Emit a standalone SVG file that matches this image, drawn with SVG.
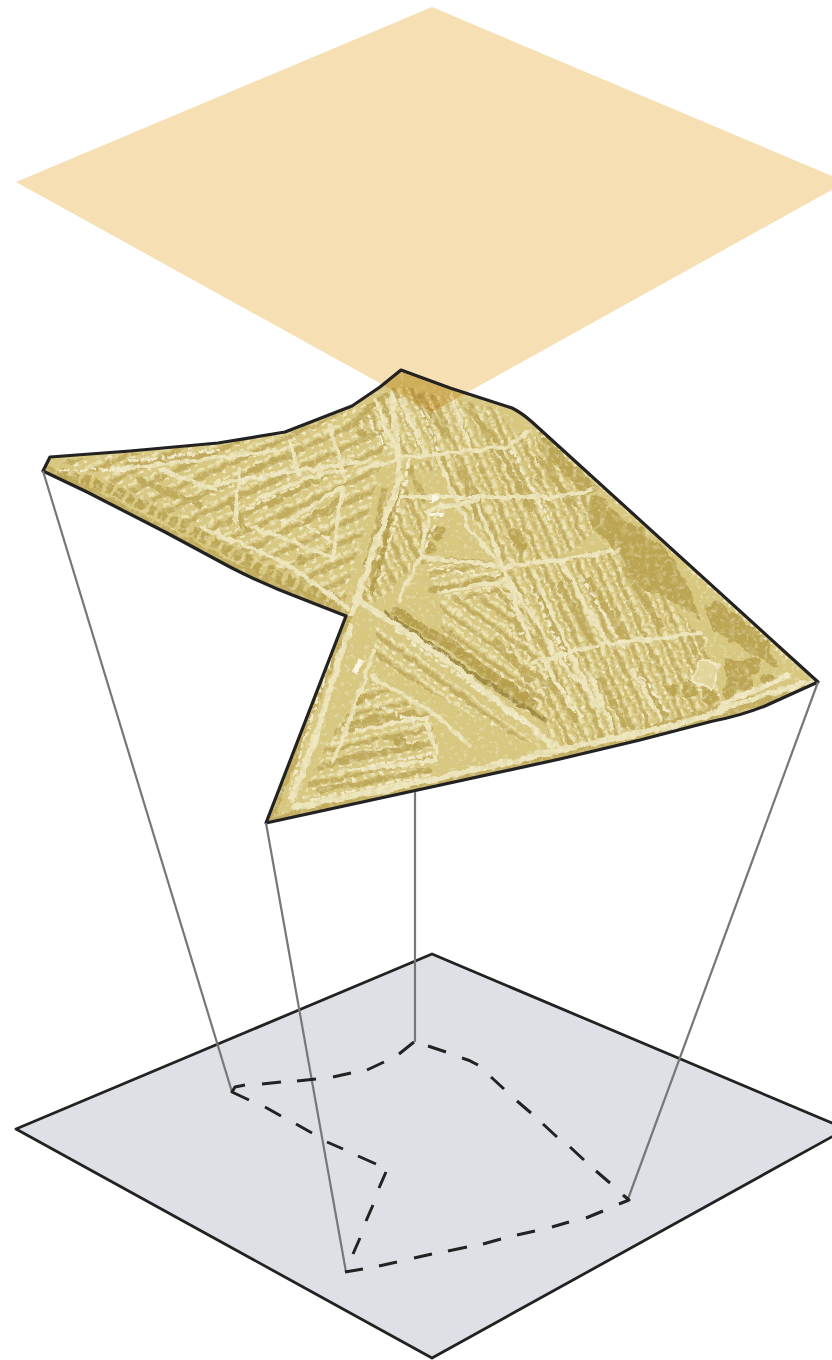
<svg xmlns="http://www.w3.org/2000/svg" width="832" height="1360" viewBox="0 0 832 1360">
<style>
.road{fill:none;stroke:#ede5bc;stroke-linecap:round;stroke-linejoin:round}
.r3{stroke-width:3}.r4{stroke-width:4}.r6{stroke-width:6}
.house{fill:none;stroke:#f3ecce;stroke-width:2.6;stroke-dasharray:9 3 4 3}
.garden{fill:none;stroke:#bfa95a;stroke-width:6;stroke-linecap:round;stroke-dasharray:14 5}
.shade{fill:none;stroke:#b39c4a;stroke-width:4;stroke-linecap:round}
.tree{fill:#bba552}
.sheetline{fill:none;stroke:#222;stroke-width:3.2;stroke-linejoin:round}
.drop{fill:none;stroke:#777;stroke-width:2.2}
.dash{fill:none;stroke:#222;stroke-width:3;stroke-linejoin:round}
</style>
<defs>
<clipPath id="mapclip"><path d="M43 471L50 457L130 451L218 443L285 432L352 406L380 387L401 370L450 388L512 408Q522 413 532 422L818 682L765 706Q740 716 713 721L640 740L560 759L266 823L346 616L300 598Q265 585 230 567L165 532L87 492Z"/></clipPath>
<pattern id="rowsA" width="11" height="16" patternUnits="userSpaceOnUse" patternTransform="rotate(66)">
<rect y="0" width="8" height="3" fill="#ebe2b4"/><rect y="4" width="11" height="4" fill="#c1ac5e"/><rect x="1" y="9" width="3" height="2" fill="#f1eac8"/><rect x="6" y="9" width="3" height="2" fill="#e9e0b0"/><rect y="12" width="9" height="2" fill="#c9b56a"/>
</pattern>
<pattern id="rowsB" width="11" height="17" patternUnits="userSpaceOnUse" patternTransform="rotate(-25)">
<rect y="0" width="8" height="3" fill="#ebe2b4"/><rect y="5" width="11" height="5" fill="#c1ac5e"/><rect x="2" y="11" width="4" height="2" fill="#f1eac8"/>
</pattern>
<pattern id="rowsC" width="10" height="15" patternUnits="userSpaceOnUse" patternTransform="rotate(-12)">
<rect y="0" width="8" height="3" fill="#ebe2b4"/><rect y="5" width="10" height="4" fill="#c1ac5e"/><rect x="2" y="10" width="4" height="2" fill="#f1eac8"/>
</pattern>
<pattern id="rowsD" width="10" height="15" patternUnits="userSpaceOnUse" patternTransform="rotate(36)">
<rect y="0" width="8" height="3" fill="#ebe2b4"/><rect y="5" width="10" height="4" fill="#c1ac5e"/><rect x="2" y="10" width="4" height="2" fill="#f1eac8"/>
</pattern>
<filter id="rough" filterUnits="userSpaceOnUse" x="0" y="350" width="832" height="500">
<feTurbulence type="fractalNoise" baseFrequency="0.09" numOctaves="3" seed="4" result="n"/>
<feDisplacementMap in="SourceGraphic" in2="n" scale="7" xChannelSelector="R" yChannelSelector="G"/>
<feGaussianBlur stdDeviation="0.55"/>
</filter>
<filter id="mottleDark" filterUnits="userSpaceOnUse" x="0" y="350" width="832" height="500">
<feTurbulence type="fractalNoise" baseFrequency="0.14" numOctaves="3" seed="9"/>
<feColorMatrix values="0 0 0 0 0.68  0 0 0 0 0.59  0 0 0 0 0.28  0 0 0 5 -2.5"/>
<feGaussianBlur stdDeviation="0.7"/>
</filter>
<filter id="mottleLight" filterUnits="userSpaceOnUse" x="0" y="350" width="832" height="500">
<feTurbulence type="fractalNoise" baseFrequency="0.22" numOctaves="3" seed="21"/>
<feColorMatrix values="0 0 0 0 0.95  0 0 0 0 0.92  0 0 0 0 0.76  0 0 0 6 -3.4"/>
<feGaussianBlur stdDeviation="0.6"/>
</filter>
</defs>

<g id="bottom-plane">
<polygon points="432,954 16,1129 432,1358 846,1129" fill="#dde1e6" stroke="#222" stroke-width="2.8" stroke-linejoin="round"/>
</g>

<g id="map-plane">
<g clip-path="url(#mapclip)">
<rect x="30" y="360" width="800" height="480" fill="#d8c77f"/>
<g filter="url(#rough)">
<polygon points="505,572 620,545 705,640 725,715 560,752 510,665" fill="url(#rowsA)"/>
<polygon points="395,470 530,430 610,520 560,560 505,570 440,470" fill="url(#rowsA)"/>
<polygon points="350,605 395,480 430,510 420,560 380,600" fill="url(#rowsA)"/>
<polygon points="60,462 290,432 350,410 395,395 380,470 345,600 240,550 110,480" fill="url(#rowsB)"/>
<polygon points="350,420 400,385 500,410 520,440 400,458" fill="url(#rowsA)"/>
<polygon points="420,560 505,570 515,600 445,600" fill="url(#rowsC)"/>
<polygon points="440,600 510,585 560,680 530,720 440,640" fill="url(#rowsD)"/>
<polygon points="370,680 430,715 440,762 300,800 330,740" fill="url(#rowsC)"/>
<polygon points="375,625 545,750 480,720 375,660" fill="url(#rowsD)"/>
<path d="M43 471L87 492L230 567L346 616L266 823L560 759L818 682" fill="none" stroke="#c2ad5e" stroke-width="12"/>
<!-- garden strips that break up the rows -->
<g class="garden">
<path d="M130 465L215 455M250 470L295 455M140 480L200 505M270 505L315 480M300 525L340 500M230 500L245 530"/>
<path d="M385 490L370 560M410 470L425 500M460 470L480 520M500 450L530 510M540 460L575 505"/>
<path d="M535 590L565 650M560 585L590 640M590 580L625 640M625 570L660 625M550 680L575 720M600 680L625 725M640 675L665 715M690 640L715 700"/>
<path d="M430 590L495 578M445 560L490 565M450 640L500 690M495 640L530 680M345 725L415 712M335 760L425 745M320 790L430 770"/>
<path d="M355 420L385 395M420 395L445 435M470 410L495 440"/>
</g>
<!-- tree masses -->
<g class="tree">
<path d="M600 500L628 522L668 552L690 590L700 620L672 600L640 590L620 555L590 525Z"/>
<path d="M540 430L600 490L585 495L550 460Z"/>
<path d="M705 605L735 615L770 650L778 668L745 650L712 630Z"/>
<circle cx="618" cy="530" r="11"/><circle cx="634" cy="540" r="13"/><circle cx="650" cy="557" r="13"/><circle cx="645" cy="575" r="11"/><circle cx="662" cy="570" r="9"/><circle cx="598" cy="506" r="10"/>
<circle cx="718" cy="612" r="10"/><circle cx="733" cy="622" r="11"/><circle cx="748" cy="636" r="11"/><circle cx="762" cy="645" r="9"/><circle cx="752" cy="665" r="9"/><circle cx="768" cy="680" r="7"/><circle cx="690" cy="690" r="8"/><circle cx="710" cy="697" r="7"/><circle cx="730" cy="692" r="7"/><circle cx="672" cy="690" r="6"/>
<path d="M725 660L745 660L755 690L725 692Z"/>
<circle cx="362" cy="432" r="5"/><circle cx="425" cy="535" r="6"/><circle cx="438" cy="533" r="7"/><circle cx="430" cy="548" r="6"/><circle cx="515" cy="535" r="7"/><circle cx="520" cy="545" r="6"/><circle cx="380" cy="530" r="6"/><circle cx="370" cy="565" r="7"/>
<circle cx="300" cy="560" r="5"/><circle cx="360" cy="700" r="5"/><circle cx="400" cy="740" r="6"/><circle cx="420" cy="745" r="5"/>
</g>
<!-- tree rows -->
<path d="M385 612L470 672L548 722" fill="none" stroke="#a08b42" stroke-width="4"/>
<path d="M395 610L470 660L530 702" fill="none" stroke="#b7a04e" stroke-width="9" stroke-dasharray="9 3" stroke-linecap="round"/>
<path d="M60 472L110 488L190 530L260 568L340 603" fill="none" stroke="#bba552" stroke-width="11" stroke-dasharray="8 4"/>
<path d="M400 480L385 540L372 595" class="shade"/>
<!-- roads -->
<g class="road r4">
<path class="r6" d="M352 612L376 545L400 477L392 395"/>
<path class="r6" d="M358 600L440 655L553 745"/>
<path class="r6" d="M293 808L440 778L560 750L680 724L765 695L815 680"/>
<path class="r6" d="M350 625L318 730L292 800"/>
<path d="M360 470L400 458L507 447L530 430"/>
<path d="M400 497L480 497L557 497L590 490"/>
<path d="M437 457L470 530L503 567"/>
<path d="M503 567L560 560L620 550"/>
<path d="M503 570L560 660L600 705"/>
<path d="M560 560L603 633"/>
<path d="M533 662L600 645L700 633"/>
<path d="M533 570L570 653L600 712"/>
<path d="M563 567L607 643"/>
<path d="M590 673L613 727"/>
<path d="M633 670L660 717"/>
<path d="M543 660L573 710"/>
<path d="M423 557L503 567"/>
<path d="M430 510L420 557L400 600"/>
<path d="M430 510L478 500"/>
<path d="M478 505L500 560"/>
<path d="M440 593L507 580L530 640"/>
<path d="M373 650L367 673L333 763"/>
<path d="M373 677L433 713L470 745"/>
<path d="M357 730L427 717L437 760"/>
<path d="M363 770L437 760"/>
<path d="M257 500L300 480L340 470"/>
<path d="M283 523L343 487L333 560"/>
<path d="M253 527L333 557"/>
<path d="M200 487L283 473L370 460"/>
<path d="M110 470L240 455L285 450"/>
<path d="M200 527L280 560L347 607"/>
<path d="M240 470L235 520M290 440L300 475M330 425L345 480"/>
<path d="M400 400L425 455M375 400L395 450M450 395L470 445"/>
<path d="M160 470L215 490"/>
</g>
<g class="house">
<path d="M330 660L305 740L290 790"/><path d="M310 800L430 775"/><path d="M395 630L540 735"/>
<path d="M435 570L500 575M365 700L420 725M350 770L430 755"/>
<path d="M530 585L570 665M580 575L625 650M555 680L585 720M640 675L670 715"/>
<path d="M440 505L425 550M510 450L550 520"/>
<path d="M410 460L380 580M420 410L440 450M370 420L390 455"/>
<path d="M245 510L300 485M130 462L220 450M240 480L285 470M60 470L130 470M290 515L330 540"/>
</g>
<path d="M538 430L650 530L800 670" fill="none" stroke="#f0e8c2" stroke-width="3" stroke-dasharray="3 4"/>
<path d="M790 675L720 705" fill="none" stroke="#f0e8c2" stroke-width="5"/>
<rect x="355" y="658" width="7" height="16" fill="#fbf8e6" transform="rotate(15 358 666)"/>
<rect x="432" y="497" width="6" height="5" fill="#fbf8e6"/><rect x="430" y="513" width="14" height="3" fill="#fbf8e6"/>
<polygon points="700,660 720,665 712,690 692,682" fill="#e3d69a" stroke="#f3ecca" stroke-width="2"/>
</g>
<rect x="30" y="360" width="800" height="480" filter="url(#mottleDark)" opacity="0.4"/>
<rect x="30" y="360" width="800" height="480" filter="url(#mottleLight)" opacity="0.3"/>
</g>
</g>

<g id="top-plane">
<polygon points="432,7 16,182 432,412 846,182" fill="#f5dfb3" style="mix-blend-mode:multiply"/>
</g>

<g id="map-outline">
<path class="sheetline" d="M43 471L50 457L130 451L218 443L285 432L352 406L380 387L401 370L450 388L512 408Q522 413 532 422L818 682L765 706Q740 716 713 721L640 740L560 759L266 823L346 616L300 598Q265 585 230 567L165 532L87 492Z"/>
</g>

<g id="connectors">
<line class="drop" x1="43" y1="471" x2="232" y2="1092"/>
<line class="drop" x1="266" y1="823" x2="346" y2="1272"/>
<line class="drop" x1="415" y1="792" x2="415" y2="1042"/>
<line class="drop" x1="818" y1="682" x2="628" y2="1199"/>
</g>

<g id="footprint">
<path class="dash" d="M245 1085L235 1087L232 1092L249 1100M262 1084L281 1082M297 1081L316 1079M333 1077L351 1073M367 1070L384 1062M399 1054L414 1042M428 1046L446 1052M462 1058Q470 1060 478 1065M491 1077L504 1089M517 1101L531 1113M543 1124L557 1137M570 1147L584 1160M596 1171L610 1183M623 1195L629 1200L619 1204M603 1211L586 1218M569 1222L552 1227M535 1231L517 1235M501 1239L483 1244M467 1247L448 1251M432 1254L414 1258M397 1262L379 1266M363 1269L345 1272M353 1254L360 1238M366 1221L373 1205M379 1188L386 1172M376 1164L358 1156M343 1149L327 1142M312 1133L296 1124M281 1116L265 1107"/>
</g>
</svg>
